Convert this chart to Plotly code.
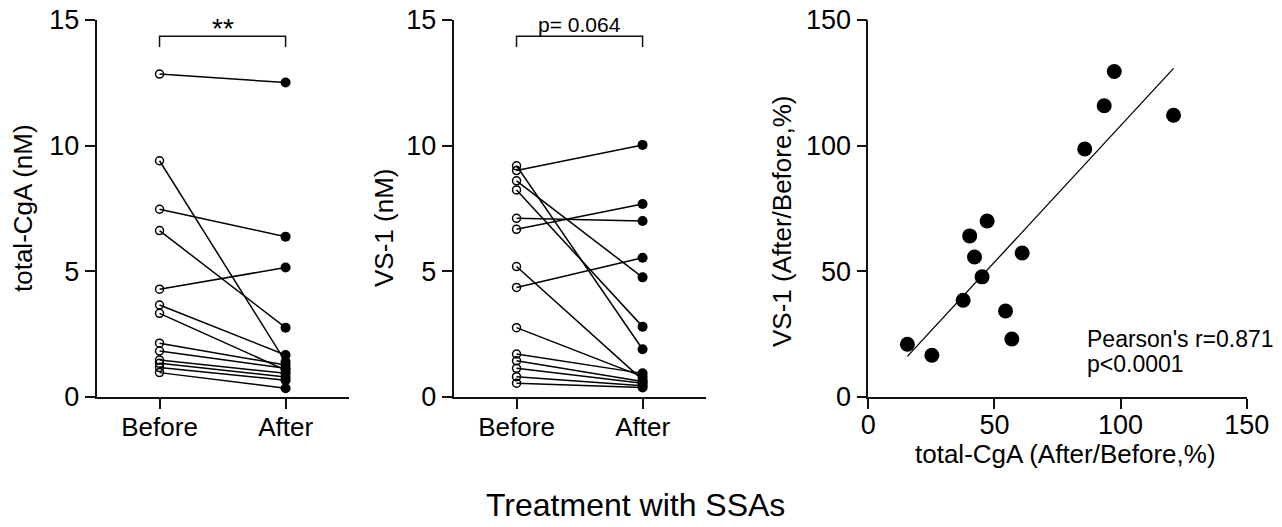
import numpy as np
import plotly.graph_objects as go

W, H = 1282, 527
FONT = "Liberation Sans, Arial, sans-serif"

groups = ["Before", "After"]

# Panel A: total-CgA (nM), paired values per patient
cga_before = [12.85, 9.40, 7.47, 6.62, 4.29, 3.66, 3.33, 2.14, 1.83, 1.47, 1.34, 1.17, 0.97]
cga_after = [12.51, 1.40, 6.38, 2.76, 5.15, 1.67, 1.07, 1.27, 1.14, 0.94, 0.80, 0.67, 0.35]

# Panel B: VS-1 (nM), paired values per patient
vs_before = [9.20, 9.01, 8.60, 8.24, 7.11, 6.67, 5.19, 4.36, 2.76, 1.71, 1.44, 1.14, 0.81, 0.55]
vs_after = [1.90, 10.03, 4.76, 2.80, 7.00, 7.68, 0.68, 5.54, 0.81, 0.94, 0.62, 0.55, 0.45, 0.38]

# Panel C: ratios (After/Before, %)
ratio_cga = [15.5, 25.2, 37.6, 40.2, 42.1, 45.1, 47.1, 54.4, 56.9, 61.0, 85.8, 93.5, 97.5, 121.0]
ratio_vs = [21.0, 16.6, 38.5, 64.1, 55.7, 47.8, 70.0, 34.2, 23.1, 57.3, 98.7, 115.9, 129.5, 112.1]

y_ticks_conc = [0, 5, 10, 15]
ratio_ticks = [0, 50, 100, 150]
sig_labels = ["**", "p= 0.064"]
pearson_text = ["Pearson's r=0.871", "p<0.0001"]


def px_x(p):
    return p / W


def px_y(p):
    return 1 - p / H


fig = go.Figure()

panels = [(cga_before, cga_after, "x", "y"), (vs_before, vs_after, "x2", "y2")]
for before, after, xa, ya in panels:
    for b, a in zip(before, after):
        fig.add_trace(go.Scatter(x=groups, y=[b, a], mode="lines", xaxis=xa, yaxis=ya,
                                 line=dict(color="black", width=1.5), hoverinfo="skip"))
    fig.add_trace(go.Scatter(x=[groups[0]] * len(before), y=before, mode="markers", xaxis=xa, yaxis=ya,
                             marker=dict(symbol="circle-open", size=8, color="black",
                                         line=dict(width=1.5, color="black"))))
    fig.add_trace(go.Scatter(x=[groups[1]] * len(after), y=after, mode="markers", xaxis=xa, yaxis=ya,
                             marker=dict(symbol="circle", size=10, color="black")))

# scatter panel
fig.add_trace(go.Scatter(x=ratio_cga, y=ratio_vs, mode="markers", xaxis="x3", yaxis="y3",
                         marker=dict(symbol="circle", size=15, color="black")))
slope, intercept = np.polyfit(ratio_cga, ratio_vs, 1)
xl = np.array([min(ratio_cga), max(ratio_cga)])
fig.add_trace(go.Scatter(x=xl, y=slope * xl + intercept, mode="lines", xaxis="x3", yaxis="y3",
                         line=dict(color="black", width=1.3)))

ydom = [px_y(397), px_y(20)]
axis_common = dict(showline=True, linewidth=1.5, linecolor="#111", ticks="outside", ticklen=10,
                   tickwidth=1.5, tickcolor="#111", showgrid=False, zeroline=False,
                   automargin=False, ticklabeloverflow="allow")
num_font = dict(family=FONT, size=27, color="black")
cat_font = dict(family=FONT, size=26, color="black")

fig.update_layout(
    template="none",
    width=W, height=H, margin=dict(l=0, r=0, t=0, b=0, pad=0, autoexpand=False),
    paper_bgcolor="white", plot_bgcolor="white", showlegend=False,
    font=dict(family=FONT, color="black"),
    xaxis=dict(domain=[px_x(96.5), px_x(348.6)], anchor="y", type="category",
               range=[-0.5, 1.5], tickfont=cat_font, ticklabelstandoff=-4, **axis_common),
    yaxis=dict(domain=ydom, anchor="x", range=[0, 15], tickvals=y_ticks_conc,
               tickfont=num_font, **axis_common),
    xaxis2=dict(domain=[px_x(453.5), px_x(705.6)], anchor="y2", type="category",
                range=[-0.5, 1.5], tickfont=cat_font, ticklabelstandoff=-4, **axis_common),
    yaxis2=dict(domain=ydom, anchor="x2", range=[0, 15], tickvals=y_ticks_conc,
                tickfont=num_font, **axis_common),
    xaxis3=dict(domain=[px_x(868.3), px_x(1246.7)], anchor="y3", range=[0, 150],
                tickvals=ratio_ticks, tickfont=num_font, ticklabelstandoff=-7, **axis_common),
    yaxis3=dict(domain=ydom, anchor="x3", range=[0, 150], tickvals=ratio_ticks,
                tickfont=num_font, **axis_common),
)

# significance brackets
bracket_top, bracket_leg = 14.35, 13.93
for (xa, ya), lab in zip([("x", "y"), ("x2", "y2")], sig_labels):
    fig.add_shape(type="path", xref=xa, yref=ya,
                  path=f"M 0 {bracket_leg} L 0 {bracket_top} L 1 {bracket_top} L 1 {bracket_leg}",
                  line=dict(color="#111", width=1.5))
    is_star = lab == "**"
    fig.add_annotation(x=0.5, y=bracket_top, xref=xa, yref=ya, text=lab, showarrow=False,
                       yanchor="bottom", yshift=-10 if is_star else -2,
                       font=dict(family=FONT, size=28 if is_star else 21, color="black"))

# axis titles
titles = [("total-CgA (nM)", 23, 208), ("VS-1 (nM)", 384, 228), ("VS-1 (After/Before,%)", 782, 222)]
for t, xp, yp in titles:
    fig.add_annotation(x=px_x(xp), y=px_y(yp), xref="paper", yref="paper", text=t, textangle=-90,
                       showarrow=False, xanchor="center", yanchor="middle",
                       font=dict(family=FONT, size=26, color="black"))

fig.add_annotation(x=px_x(1065), y=px_y(454), xref="paper", yref="paper",
                   text="total-CgA (After/Before,%)", showarrow=False, xanchor="center", yanchor="middle",
                   font=dict(family=FONT, size=26, color="black"))
fig.add_annotation(x=px_x(635.5), y=px_y(505), xref="paper", yref="paper",
                   text="Treatment with SSAs", showarrow=False, xanchor="center", yanchor="middle",
                   font=dict(family=FONT, size=32, color="black"))
for txt, yp in zip(pearson_text, [339, 364]):
    fig.add_annotation(x=px_x(1085), y=px_y(yp), xref="paper", yref="paper", text=txt,
                       showarrow=False, xanchor="left", yanchor="middle",
                       font=dict(family=FONT, size=23, color="black"))

# remove the browser's default 8 px body margin so the figure fills the window exactly
fig.write_html("out.html", config={"displayModeBar": False},
               post_script="document.body.style.margin='0';document.body.style.overflow='hidden';")
